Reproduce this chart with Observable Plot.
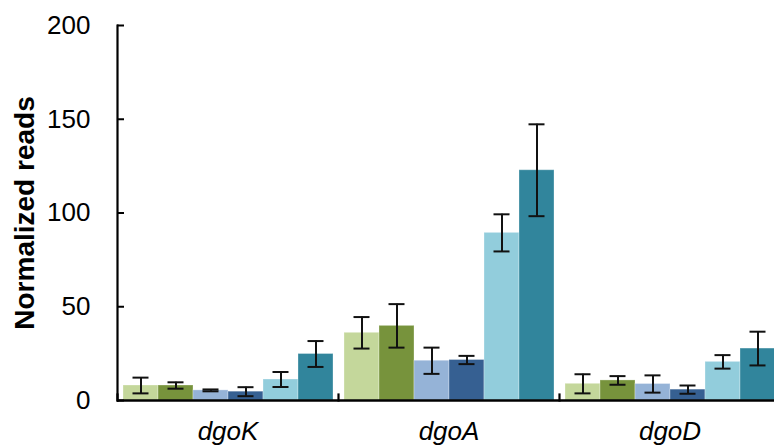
<!DOCTYPE html>
<html>
<head>
<meta charset="utf-8">
<script src="https://cdn.jsdelivr.net/npm/d3@7"></script>
<script src="https://cdn.jsdelivr.net/npm/@observablehq/plot@0.6"></script>
<style>
  html, body { margin: 0; padding: 0; background: #fff; }
  #chart svg { font-family: "Liberation Sans", Arial, sans-serif; }
</style>
</head>
<body>
<div id="chart"></div>
<script>
const genes = ["dgoK", "dgoA", "dgoD"];
const conditions = ["Condition 1", "Condition 2", "Condition 3", "Condition 4", "Condition 5", "Condition 6"];
const colors = ["#c4d79b", "#77933c", "#95b3d7", "#366092", "#92cddc", "#31859c"];

const dgoKMean = [8.0, 8.0, 5.4, 4.7, 11.2, 24.8];
const dgoKErr  = [4.2, 1.7, 0.5, 2.4, 4.0, 6.9];
const dgoAMean = [36.1, 39.8, 21.2, 21.6, 89.4, 122.8];
const dgoAErr  = [8.4, 11.6, 7.0, 2.2, 9.9, 24.5];
const dgoDMean = [8.9, 10.7, 8.8, 5.8, 20.6, 27.7];
const dgoDErr  = [5.1, 2.3, 4.6, 2.2, 3.6, 9.0];

const yTicks = [0, 50, 100, 150, 200];
const yLabel = "Normalized reads";

const meansByGene = [dgoKMean, dgoAMean, dgoDMean];
const errsByGene = [dgoKErr, dgoAErr, dgoDErr];
const data = genes.flatMap((g, gi) => conditions.map((c, ci) => ({
  gene: g, cond: c,
  mean: meansByGene[gi][ci],
  lo: meansByGene[gi][ci] - errsByGene[gi][ci],
  hi: meansByGene[gi][ci] + errsByGene[gi][ci]
})));

const chart = Plot.plot({
  width: 774,
  height: 445,
  marginTop: 25,
  marginBottom: 45,
  marginLeft: 117,
  marginRight: 0,
  fx: {domain: genes, padding: 0, range: [117, 780], label: null},
  x: {domain: conditions, paddingInner: 0, paddingOuter: 0.1, axis: null},
  y: {domain: [0, 200], axis: null},
  color: {domain: conditions, range: colors},
  marks: [
    Plot.barY(data, {fx: "gene", x: "cond", y: "mean", fill: "cond", stroke: "#ffffff", strokeOpacity: 0.3, strokeWidth: 1}),
    Plot.ruleX(data, {fx: "gene", x: "cond", y1: "lo", y2: "hi", stroke: "#111", strokeWidth: 2}),
    Plot.tickY(data, {fx: "gene", x: "cond", y: "lo", stroke: "#111", strokeWidth: 2, insetLeft: 9.5, insetRight: 9.5}),
    Plot.tickY(data, {fx: "gene", x: "cond", y: "hi", stroke: "#111", strokeWidth: 2, insetLeft: 9.5, insetRight: 9.5}),
    Plot.ruleY([0], {stroke: "#000", strokeWidth: 2.5}),
    Plot.frame({anchor: "left", insetTop: 369, stroke: "#000", strokeWidth: 2.2}),
    Plot.frame({anchor: "left", facetAnchor: "left", stroke: "#000", strokeWidth: 2.2}),
    Plot.axisY({ticks: yTicks, tickSize: -7, tickPadding: 34, fontSize: 26, label: null, stroke: "#000", strokeWidth: 2, color: "#000"}),
    Plot.axisFx({anchor: "bottom", tickSize: 0, tickPadding: 21, fontSize: 26, fontStyle: "italic", label: null, color: "#000"}),
    Plot.text([yLabel], {fx: ["dgoK"], frameAnchor: "left", textAnchor: "middle", dx: -92, rotate: -90, fontSize: 28, fontWeight: "bold", fill: "#000"})
  ]
});
document.getElementById("chart").appendChild(chart);
</script>
</body>
</html>
